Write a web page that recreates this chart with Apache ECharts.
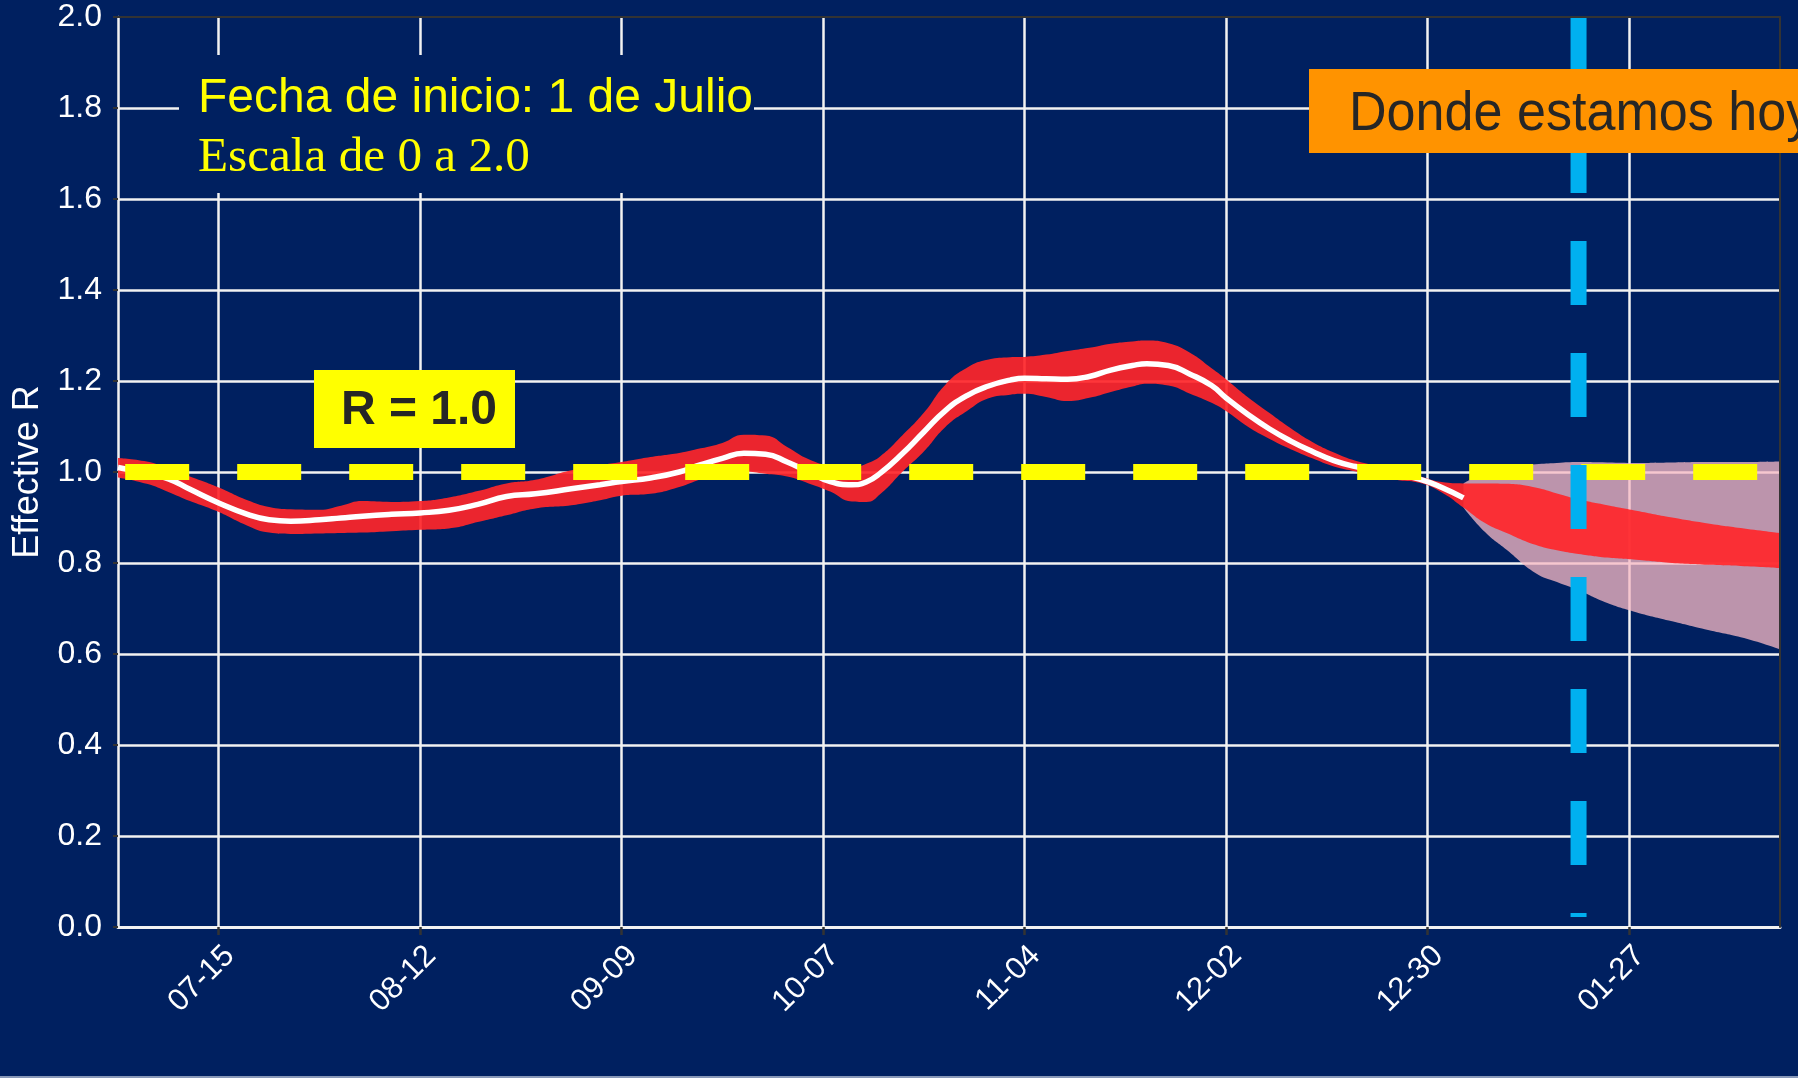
<!DOCTYPE html>
<html>
  <head>
    <meta charset="utf-8" />
    <title>Effective R</title>
    <script src="https://cdn.jsdelivr.net/npm/echarts@6/dist/echarts.min.js"></script>
    <style>
      html, body { margin: 0; padding: 0; background: #002060; }
      #main { width: 1798px; height: 1078px; }
    </style>
  </head>
  <body>
    <div id="main"></div>

    <script type="text/javascript">
      var myChart = echarts.init(document.getElementById('main'));

      // eje x: un dia por categoria, 1 de julio -> 17 de febrero
      const days = [];
      for (let t = Date.UTC(2020, 6, 1); t <= Date.UTC(2021, 1, 17); t += 86400000) {
        const d = new Date(t);
        days.push(String(d.getUTCMonth() + 1).padStart(2, '0') + '-' + String(d.getUTCDate()).padStart(2, '0'));
      }
      const tickDates = ['07-15', '08-12', '09-09', '10-07', '11-04', '12-02', '12-30', '01-27'];
      const yTicks = [0, 0.2, 0.4, 0.6, 0.8, 1.0, 1.2, 1.4, 1.6, 1.8, 2.0];

      // banda roja (intervalo) y mediana (linea blanca)
      const bandDates = [
        '07-01', '07-05', '07-08', '07-11', '07-15', '07-19', '07-22', '07-25', '07-29', '08-01',
        '08-04', '08-08', '08-12', '08-16', '08-20', '08-24', '08-28', '09-02', '09-06', '09-09',
        '09-13', '09-17', '09-20', '09-23', '09-26', '09-29', '10-02', '10-05', '10-08', '10-11',
        '10-13', '10-15', '10-18', '10-21', '10-24', '10-27', '10-30', '11-02', '11-04', '11-07',
        '11-10', '11-13', '11-16', '11-19', '11-21', '11-24', '11-27', '11-30', '12-02', '12-05',
        '12-08', '12-11', '12-14', '12-17', '12-20', '12-23', '12-26', '12-29', '01-01', '01-04',
        '01-07', '01-10', '01-14', '01-17', '01-20', '01-24', '01-28', '02-02', '02-07', '02-12',
        '02-17'
      ];
      const median = [
        1.010, 0.997, 0.985, 0.962, 0.932, 0.907, 0.895, 0.892, 0.895, 0.899,
        0.903, 0.907, 0.910, 0.916, 0.929, 0.946, 0.952, 0.963, 0.972, 0.979,
        0.987, 1.000, 1.016, 1.030, 1.041, 1.039, 1.022, 1.000, 0.979, 0.972,
        0.978, 0.998, 1.040, 1.088, 1.135, 1.168, 1.189, 1.202, 1.206, 1.205,
        1.204, 1.210, 1.224, 1.234, 1.238, 1.234, 1.215, 1.190, 1.163, 1.127,
        1.095, 1.068, 1.045, 1.025, 1.012, 1.003, 0.994, 0.984, 0.966, 0.943
      ];
      const upper = [
        1.031, 1.023, 1.008, 0.990, 0.966, 0.938, 0.923, 0.918, 0.917, 0.926,
        0.936, 0.934, 0.936, 0.944, 0.958, 0.975, 0.983, 1.004, 1.015, 1.022,
        1.033, 1.042, 1.052, 1.064, 1.082, 1.080, 1.055, 1.028, 1.014, 1.010,
        1.018, 1.035, 1.080, 1.130, 1.192, 1.229, 1.247, 1.252, 1.253, 1.258,
        1.266, 1.273, 1.282, 1.287, 1.289, 1.283, 1.262, 1.228, 1.204, 1.165,
        1.130, 1.096, 1.066, 1.043, 1.025, 1.014, 1.002, 0.990, 0.978, 0.975,
        0.975, 0.974, 0.966, 0.953, 0.940, 0.927, 0.915, 0.900, 0.887, 0.876,
        0.866
      ];
      const lower = [
        0.988, 0.974, 0.956, 0.936, 0.912, 0.882, 0.867, 0.864, 0.865, 0.866,
        0.867, 0.870, 0.873, 0.876, 0.890, 0.905, 0.920, 0.927, 0.938, 0.948,
        0.952, 0.967, 0.984, 0.999, 1.001, 0.996, 0.990, 0.975, 0.957, 0.935,
        0.934, 0.952, 1.000, 1.045, 1.099, 1.134, 1.162, 1.170, 1.172, 1.165,
        1.156, 1.163, 1.176, 1.188, 1.194, 1.190, 1.172, 1.152, 1.134, 1.100,
        1.073, 1.050, 1.030, 1.012, 1.001, 0.990, 0.982, 0.976, 0.955, 0.922,
        0.888, 0.866, 0.840, 0.828, 0.820, 0.812, 0.807, 0.800, 0.796, 0.793,
        0.789
      ];

      // banda rosa (proyeccion amplia)
      const projDates = ['01-04', '01-07', '01-10', '01-14', '01-17', '01-20', '01-24', '01-28', '02-02', '02-07', '02-12', '02-17'];
      const projUpper = [0.975, 0.998, 1.010, 1.017, 1.020, 1.022, 1.021, 1.020, 1.021, 1.022, 1.022, 1.023];
      const projLower = [0.922, 0.868, 0.829, 0.778, 0.758, 0.740, 0.712, 0.692, 0.672, 0.653, 0.635, 0.610];

      const rRef = 1.0;
      const today = '01-20';

      const font = '"Liberation Sans", Arial, sans-serif';
      const isTick = (i, v) => tickDates.includes(v);
      const pairs = (xs, ys) => ys.map((v, i) => [xs[i], v]);
      const diffs = (hi, lo) => hi.map((v, i) => +(v - lo[i]).toFixed(3));
      const hidden = { type: 'line', symbol: 'none', smooth: 0.5, lineStyle: { opacity: 0 }, silent: true };

      let option = {
        backgroundColor: '#002060',
        animation: false,
        grid: { left: 118, right: 18, top: 17, bottom: 151 },
        xAxis: [
          {
            type: 'category',
            data: days,
            boundaryGap: false,
            axisLine: { onZero: false, lineStyle: { color: '#f2f2f2', width: 3 } },
            axisTick: { interval: isTick, length: 8, lineStyle: { color: '#333', width: 2.5 } },
            axisLabel: {
              interval: isTick, rotate: 45, margin: 13, verticalAlign: 'top',
              color: '#fff', fontSize: 31, fontFamily: font
            },
            splitLine: { show: true, interval: isTick, lineStyle: { color: '#f2f2f2', width: 2.5 } }
          },
          {
            type: 'category',
            data: days,
            boundaryGap: false,
            position: 'top',
            z: 10,
            axisLine: { onZero: false, lineStyle: { color: '#333', width: 2 } },
            axisTick: { show: false },
            axisLabel: { show: false },
            splitLine: { show: false }
          }
        ],
        yAxis: [
          {
            type: 'value',
            min: yTicks[0],
            max: yTicks[yTicks.length - 1],
            interval: 0.2,
            name: 'Effective R',
            nameLocation: 'middle',
            nameGap: 72,
            nameMoveOverlap: false,
            nameTextStyle: { color: '#fff', fontSize: 36, fontFamily: font },
            axisLine: { show: true, onZero: false, lineStyle: { color: '#f2f2f2', width: 2.5 } },
            axisTick: { show: true, length: 5, lineStyle: { color: '#333', width: 2 } },
            axisLabel: { margin: 16, color: '#fff', fontSize: 32, fontFamily: font, formatter: v => v.toFixed(1) },
            splitLine: { show: true, showMaxLine: false, lineStyle: { color: '#f2f2f2', width: 2.5 } }
          },
          {
            type: 'value',
            min: yTicks[0],
            max: yTicks[yTicks.length - 1],
            position: 'right',
            z: 10,
            axisLine: { show: true, onZero: false, lineStyle: { color: '#333', width: 2 } },
            axisTick: { show: false },
            axisLabel: { show: false },
            splitLine: { show: false }
          }
        ],
        series: [
          Object.assign({}, hidden, { name: 'proj-low', stack: 'proj', data: pairs(projDates, projLower) }),
          Object.assign({}, hidden, {
            name: 'proyeccion',
            stack: 'proj',
            areaStyle: { color: 'rgba(247,185,196,0.76)', opacity: 1 },
            data: pairs(projDates, diffs(projUpper, projLower))
          }),
          Object.assign({}, hidden, { name: 'ic-low', stack: 'ic', data: pairs(bandDates, lower) }),
          Object.assign({}, hidden, {
            name: 'intervalo',
            stack: 'ic',
            areaStyle: { color: 'rgba(255,38,42,0.92)', opacity: 1 },
            data: pairs(bandDates, diffs(upper, lower))
          }),
          {
            name: 'mediana',
            type: 'line',
            symbol: 'none',
            smooth: 0.5,
            lineStyle: { color: '#ffffff', width: 5.5, cap: 'butt' },
            data: pairs(bandDates, median)
          },
          {
            name: 'R = 1',
            type: 'line',
            symbol: 'none',
            lineStyle: { color: '#FFFF00', width: 16, type: [64, 48], cap: 'butt' },
            data: [[days[1], rRef], [days[days.length - 1], rRef]]
          },
          {
            name: 'hoy',
            type: 'line',
            symbol: 'none',
            lineStyle: { color: '#00B0F0', width: 16, type: [64, 48], cap: 'butt' },
            data: [[today, yTicks[yTicks.length - 1]], [today, 0.022]]
          }
        ],
        graphic: [
          { type: 'rect', z: 100, shape: { x: 179, y: 55, width: 575, height: 138 }, style: { fill: '#002060' } },
          {
            type: 'text', z: 101, x: 198, y: 99,
            style: { text: 'Fecha de inicio: 1 de Julio', fill: '#FFFF00', fontSize: 48, fontFamily: font, verticalAlign: 'middle' }
          },
          {
            type: 'text', z: 101, x: 198, y: 158, scaleX: 1.025,
            style: { text: 'Escala de 0 a 2.0', fill: '#FFFF00', fontSize: 48, fontFamily: '"Liberation Serif", "Times New Roman", serif', verticalAlign: 'middle' }
          },
          { type: 'rect', z: 100, shape: { x: 314, y: 370, width: 201, height: 78 }, style: { fill: '#FFFF00' } },
          {
            type: 'text', z: 101, x: 419, y: 411,
            style: { text: 'R = 1.0', fill: '#262626', fontSize: 48, fontWeight: 'bold', fontFamily: font, align: 'center', verticalAlign: 'middle' }
          },
          { type: 'rect', z: 100, shape: { x: 1309, y: 69, width: 500, height: 84 }, style: { fill: '#FF9300' } },
          {
            type: 'text', z: 101, x: 1349, y: 115, scaleX: 0.93,
            style: { text: 'Donde estamos hoy', fill: '#262626', fontSize: 56, fontFamily: font, verticalAlign: 'middle' }
          },
          { type: 'rect', z: 100, shape: { x: 0, y: 1076, width: 1798, height: 2 }, style: { fill: '#8898B8' } }
        ]
      };

      myChart.setOption(option);
    </script>
  </body>
</html>
